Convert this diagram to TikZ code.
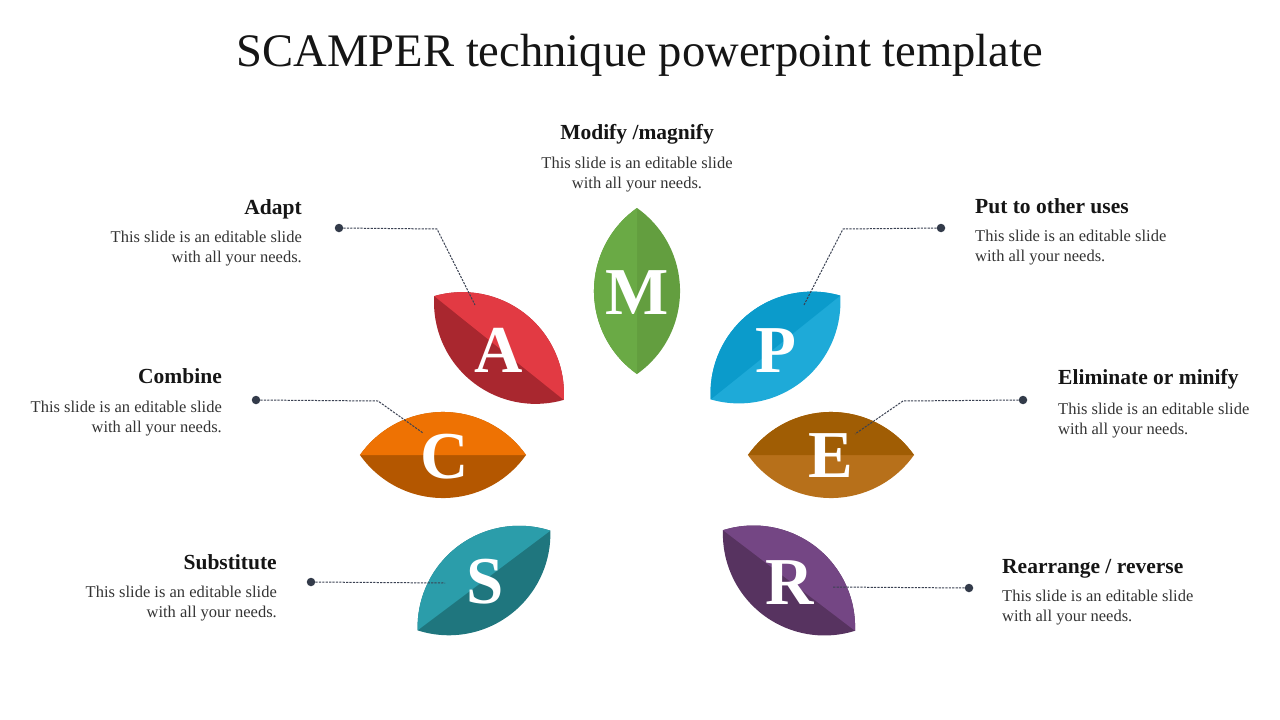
\documentclass[tikz,border=0pt]{standalone}
\usepackage{fontspec}
\setmainfont{Liberation Serif}

% petal colours
\definecolor{mLight}{HTML}{6AAA45}
\definecolor{mDark}{HTML}{639E3F}
\definecolor{aLight}{HTML}{E23A43}
\definecolor{aDark}{HTML}{A9272F}
\definecolor{pLight}{HTML}{1EAAD8}
\definecolor{pDark}{HTML}{0B9BCB}
\definecolor{cLight}{HTML}{EE7203}
\definecolor{cDark}{HTML}{B45700}
\definecolor{eLight}{HTML}{B7701A}
\definecolor{eDark}{HTML}{A05D04}
\definecolor{sLight}{HTML}{2B9DAA}
\definecolor{sDark}{HTML}{1F767E}
\definecolor{rLight}{HTML}{744684}
\definecolor{rDark}{HTML}{573360}
\definecolor{dotDark}{HTML}{333B4A}
\definecolor{lineGray}{HTML}{3A4152}
\definecolor{textDark}{HTML}{151515}
\definecolor{textGray}{HTML}{333333}

\tikzset{
  % one leaf: #1 = turn, #2 = half on the left of the axis, #3 = other half
  pics/petal/.style n args={3}{code={
    \begin{scope}[x=1pt, y=1pt, rotate=#1]
      \fill[#3] (83,0) arc[start angle=35.2, end angle=144.8, radius=101.6pt]
                arc[start angle=215.2, end angle=324.8, radius=101.6pt] -- cycle;
      \fill[#2] (83,0) arc[start angle=35.2, end angle=144.8, radius=101.6pt] -- cycle;
    \end{scope}
  }}
}

\begin{document}
\begin{tikzpicture}[x=1pt, y=-1pt,
    letter/.style={font=\fontsize{67}{67}\selectfont\bfseries, text=white, inner sep=0pt},
    head/.style={font=\fontsize{21.5}{24}\selectfont\bfseries, text=textDark, inner sep=0pt},
    body/.style={font=\fontsize{16.5}{20}\selectfont, text=textGray, inner sep=0pt},
    leader/.style={draw=lineGray, line width=1pt, dash pattern=on 2.2pt off 1.2pt},
    dot/.style={circle, fill=dotDark, inner sep=0pt, minimum size=8.5pt}]

    \useasboundingbox (0,0) rectangle (1280,720);

    % Title
    \node[font=\fontsize{46.6}{50}\selectfont, text=textDark, anchor=base] (title) at (640,66)
        {SCAMPER technique powerpoint template};

    % Leaves
    \pic at (637,291) {petal={90}{mLight}{mDark}};
    \pic at (499,348) {petal={-38.7}{aLight}{aDark}};
    \pic at (775.5,347.5) {petal={38.7}{pDark}{pLight}};
    \pic at (443,455) {petal={0}{cLight}{cDark}};
    \pic at (831,455) {petal={0}{eDark}{eLight}};
    \pic at (484,580.5) {petal={36.9}{sLight}{sDark}};
    \pic at (789,580.5) {petal={-37.3}{rLight}{rDark}};

    % Letters
    \node[letter] (M) at (637,293) {M};
    \node[letter] (A) at (499,350) {A};
    \node[letter] (P) at (776,351) {P};
    \node[letter] (C) at (445,457) {C};
    \node[letter] (E) at (831,456) {E};
    \node[letter] (S) at (485,582) {S};
    \node[letter] (R) at (790,583) {R};

    % Leader lines - left side
    \node[dot] (a-dot) at (339,228) {};
    \coordinate (a-bend) at (437,229);
    \coordinate (a-end) at (475,305);
    \draw[leader] (a-dot) -- (a-bend) -- (a-end);

    \node[dot] (c-dot) at (256,400) {};
    \coordinate (c-bend) at (378,401);
    \coordinate (c-end) at (423,433);
    \draw[leader] (c-dot) -- (c-bend) -- (c-end);

    \node[dot] (s-dot) at (311,582) {};
    \coordinate (s-end) at (445,583);
    \draw[leader] (s-dot) -- (s-end);

    % Leader lines - right side
    \node[dot] (p-dot) at (941,228) {};
    \coordinate (p-bend) at (843,229);
    \coordinate (p-end) at (804,305);
    \draw[leader] (p-dot) -- (p-bend) -- (p-end);

    \node[dot] (e-dot) at (1023,400) {};
    \coordinate (e-bend) at (903,401);
    \coordinate (e-end) at (855,434);
    \draw[leader] (e-dot) -- (e-bend) -- (e-end);

    \node[dot] (r-dot) at (969,588) {};
    \coordinate (r-end) at (833,587);
    \draw[leader] (r-dot) -- (r-end);

    % Text blocks (body anchors sit on the second line)
    \node[head, anchor=base] (m-head) at (637,139) {Modify /magnify};
    \node[body, anchor=base, align=center] (m-body) at (637,188)
        {This slide is an editable slide\\with all your needs.};

    \node[head, anchor=base east] (a-head) at (302,214) {Adapt};
    \node[body, anchor=base east, align=right] (a-body) at (302,262)
        {This slide is an editable slide\\with all your needs.};

    \node[head, anchor=base east] (c-head) at (222,383) {Combine};
    \node[body, anchor=base east, align=right] (c-body) at (222,432)
        {This slide is an editable slide\\with all your needs.};

    \node[head, anchor=base east] (s-head) at (277,569) {Substitute};
    \node[body, anchor=base east, align=right] (s-body) at (277,617)
        {This slide is an editable slide\\with all your needs.};

    \node[head, anchor=base west] (p-head) at (975,213) {Put to other uses};
    \node[body, anchor=base west, align=left] (p-body) at (975,261)
        {This slide is an editable slide\\with all your needs.};

    \node[head, anchor=base west] (e-head) at (1058,384) {Eliminate or minify};
    \node[body, anchor=base west, align=left] (e-body) at (1058,434)
        {This slide is an editable slide\\with all your needs.};

    \node[head, anchor=base west] (r-head) at (1002,573) {Rearrange / reverse};
    \node[body, anchor=base west, align=left] (r-body) at (1002,621)
        {This slide is an editable slide\\with all your needs.};

\end{tikzpicture}
\end{document}
